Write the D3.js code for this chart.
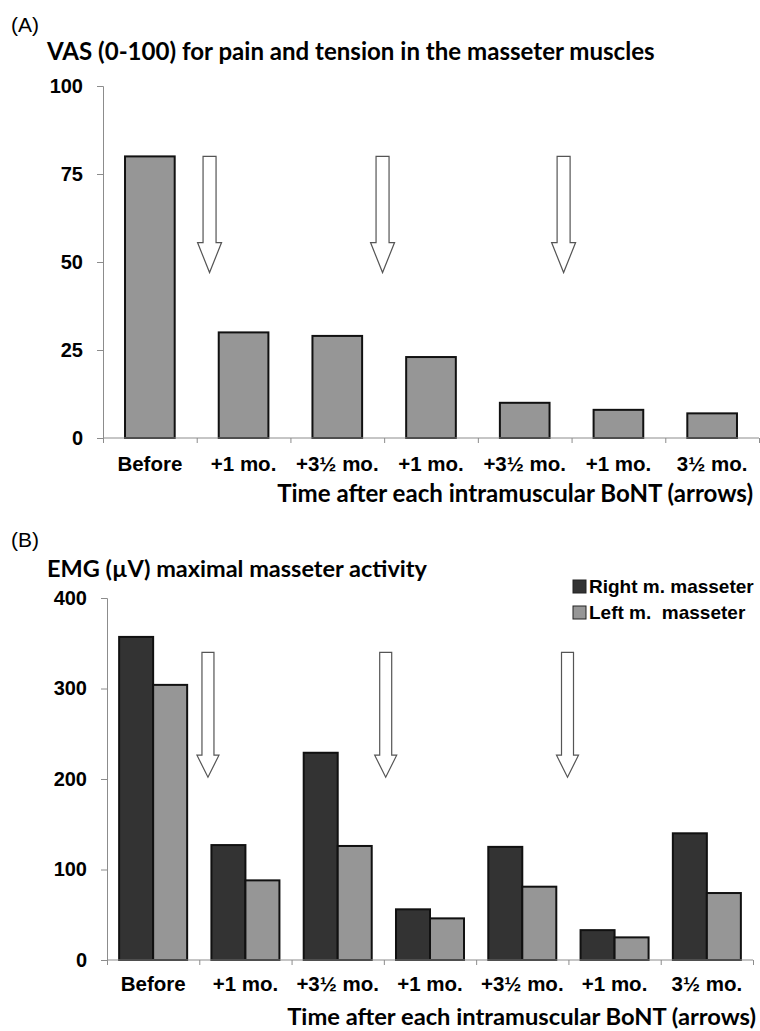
<!DOCTYPE html>
<html>
<head>
<meta charset="utf-8">
<script src="https://cdn.jsdelivr.net/npm/d3@7"></script>
<style>
  body { margin: 0; background: #fff; }
  .tick text, .lbl { font-family: "Liberation Sans", Arial, sans-serif; font-weight: bold; fill: #000; }
  .ttl { font-family: Lato, "Open Sans", sans-serif; font-weight: bold; fill: #000; }
  .panel { font-family: "Liberation Sans", Arial, sans-serif; font-size: 21px; fill: #000; }
</style>
</head>
<body>
<div id="graph"></div>
<script>
const categories = ["Before", "+1 mo.", "+3\u00BD mo.", "+1 mo.", "+3\u00BD mo.", "+1 mo.", "3\u00BD mo."];

// panel A: VAS
const vasValues = [80, 30, 29, 23, 10, 8, 7];
const vasTicks = [0, 25, 50, 75, 100];
const vasArrows = [1.137, 2.983, 4.915];   // position in category units
const vasArrowTop = 80, vasArrowTip = 47;

// panel B: EMG
const emgRight = [357, 127, 229, 56, 125, 33, 140];
const emgLeft = [304, 88, 126, 46, 81, 25, 74];
const emgTicks = [0, 100, 200, 300, 400];
const emgArrows = [1.094, 3.02, 4.99];
const emgArrowTop = 340, emgArrowTip = 202;
const seriesNames = ["Right m. masseter", "Left m.  masseter"];
const seriesColors = ["#333333", "#969696"];

const w = 760, h = 1031;

const svg = d3.select("#graph")
  .append("svg")
  .attr("width", w)
  .attr("height", h);

// fit bold title text to a measured width
function fitText(sel, width) {
  let fs = 22;
  sel.style("font-size", fs + "px");
  let len = sel.node().getComputedTextLength();
  fs = fs * width / len;
  sel.style("font-size", fs + "px");
}

function axes(g, xEdge, yScale, ticks, x0, x1, y0, tickLen) {
  // y axis
  const yAxis = d3.axisLeft(yScale).tickValues(ticks).tickSize(6).tickPadding(14);
  const ya = g.append("g")
    .attr("transform", "translate(" + x0 + ",0)")
    .call(yAxis);
  ya.select(".domain").attr("stroke", "#8c8c8c");
  ya.selectAll(".tick line").attr("stroke", "#8c8c8c");
  ya.selectAll(".tick text").style("font-size", "20px");

  // x axis: ticks between categories
  const xAxis = d3.axisBottom(xEdge).tickValues(d3.range(8)).tickSize(tickLen).tickFormat("");
  const xa = g.append("g")
    .attr("transform", "translate(0," + y0 + ")")
    .call(xAxis);
  xa.select(".domain").attr("stroke", "#8c8c8c").attr("d", "M" + x0 + ",0H" + x1);
  xa.selectAll(".tick line").attr("stroke", "#8c8c8c");
}

function catLabels(g, xEdge, y) {
  g.selectAll(".cat")
   .data(categories)
   .enter()
   .append("text")
   .attr("class", "lbl")
   .attr("x", (d, i) => xEdge(i + 0.5))
   .attr("y", y)
   .attr("text-anchor", "middle")
   .style("font-size", "20.5px")
   .text(d => d);
}

function arrows(g, xEdge, yScale, pos, top, tip, shaft, head, headLen) {
  g.selectAll(".arrow")
   .data(pos)
   .enter()
   .append("path")
   .attr("fill", "#fff")
   .attr("stroke", "#555")
   .attr("stroke-width", 1.2)
   .attr("d", d => {
     let cx = xEdge(d), yt = yScale(top), yp = yScale(tip), yb = yp - headLen;
     return "M" + (cx - shaft / 2) + "," + yt +
            "H" + (cx + shaft / 2) + "V" + yb +
            "H" + (cx + head / 2) + "L" + cx + "," + yp +
            "L" + (cx - head / 2) + "," + yb +
            "H" + (cx - shaft / 2) + "Z";
   });
}

// ---------- panel A ----------
{
  const x0 = 103, x1 = 759, y0 = 438, yTop = 86;
  const g = svg.append("g");
  const xEdge = d3.scaleLinear().domain([0, 7]).range([x0, x1]);
  const xBand = d3.scaleBand().domain(d3.range(7)).range([x0, x1]).paddingInner(0.47).paddingOuter(0.235);
  const yScale = d3.scaleLinear().domain([0, 100]).range([y0, yTop]);

  svg.append("text").attr("class", "panel").attr("x", 11).attr("y", 32).text("(A)");
  fitText(svg.append("text").attr("class", "ttl").attr("x", 47).attr("y", 60)
    .text("VAS (0-100) for pain and tension in the masseter muscles"), 608);

  g.selectAll(".bar")
   .data(vasValues)
   .enter()
   .append("rect")
   .attr("x", (d, i) => xBand(i))
   .attr("width", xBand.bandwidth())
   .attr("y", d => yScale(d))
   .attr("height", d => y0 - yScale(d))
   .attr("fill", "#969696")
   .attr("stroke", "#111")
   .attr("stroke-width", 2);

  axes(g, xEdge, yScale, vasTicks, x0, x1, y0, 5);
  arrows(g, xEdge, yScale, vasArrows, vasArrowTop, vasArrowTip, 13, 24, 30);
  catLabels(g, xEdge, 471);

  fitText(svg.append("text").attr("class", "ttl").attr("x", 753).attr("y", 502)
    .attr("text-anchor", "end")
    .text("Time after each intramuscular BoNT (arrows)"), 476);
}

// ---------- panel B ----------
{
  const x0 = 107, x1 = 753, y0 = 960, yTop = 598;
  const g = svg.append("g");
  const xEdge = d3.scaleLinear().domain([0, 7]).range([x0, x1]);
  const xBand = d3.scaleBand().domain(d3.range(7)).range([x0, x1]).paddingInner(0.263).paddingOuter(0.1315);
  const xSub = d3.scaleBand().domain([0, 1]).range([0, xBand.bandwidth()]);
  const yScale = d3.scaleLinear().domain([0, 400]).range([y0, yTop]);

  svg.append("text").attr("class", "panel").attr("x", 11).attr("y", 547).text("(B)");
  fitText(svg.append("text").attr("class", "ttl").attr("x", 47).attr("y", 577)
    .text("EMG (\u00B5V) maximal masseter activity"), 380);

  const series = [emgRight, emgLeft];
  series.forEach((vals, s) => {
    g.selectAll(".bar" + s)
     .data(vals)
     .enter()
     .append("rect")
     .attr("x", (d, i) => xBand(i) + xSub(s))
     .attr("width", xSub.bandwidth())
     .attr("y", d => yScale(d))
     .attr("height", d => y0 - yScale(d))
     .attr("fill", seriesColors[s])
     .attr("stroke", "#111")
     .attr("stroke-width", 2);
  });

  axes(g, xEdge, yScale, emgTicks, x0, x1, y0, 5);
  arrows(g, xEdge, yScale, emgArrows, emgArrowTop, emgArrowTip, 12, 22, 22);
  catLabels(g, xEdge, 991);

  fitText(svg.append("text").attr("class", "ttl").attr("x", 756).attr("y", 1025)
    .attr("text-anchor", "end")
    .text("Time after each intramuscular BoNT (arrows)"), 469);

  // legend
  const leg = svg.append("g").attr("transform", "translate(573,580)");
  seriesNames.forEach((name, i) => {
    leg.append("rect")
       .attr("x", 0).attr("y", i * 26)
       .attr("width", 13).attr("height", 13)
       .attr("fill", seriesColors[i])
       .attr("stroke", "#222");
    leg.append("text")
       .attr("class", "lbl")
       .attr("x", 16).attr("y", i * 26 + 13)
       .style("font-size", "19px")
       .style("white-space", "pre")
       .text(name);
  });
}
</script>
</body>
</html>
